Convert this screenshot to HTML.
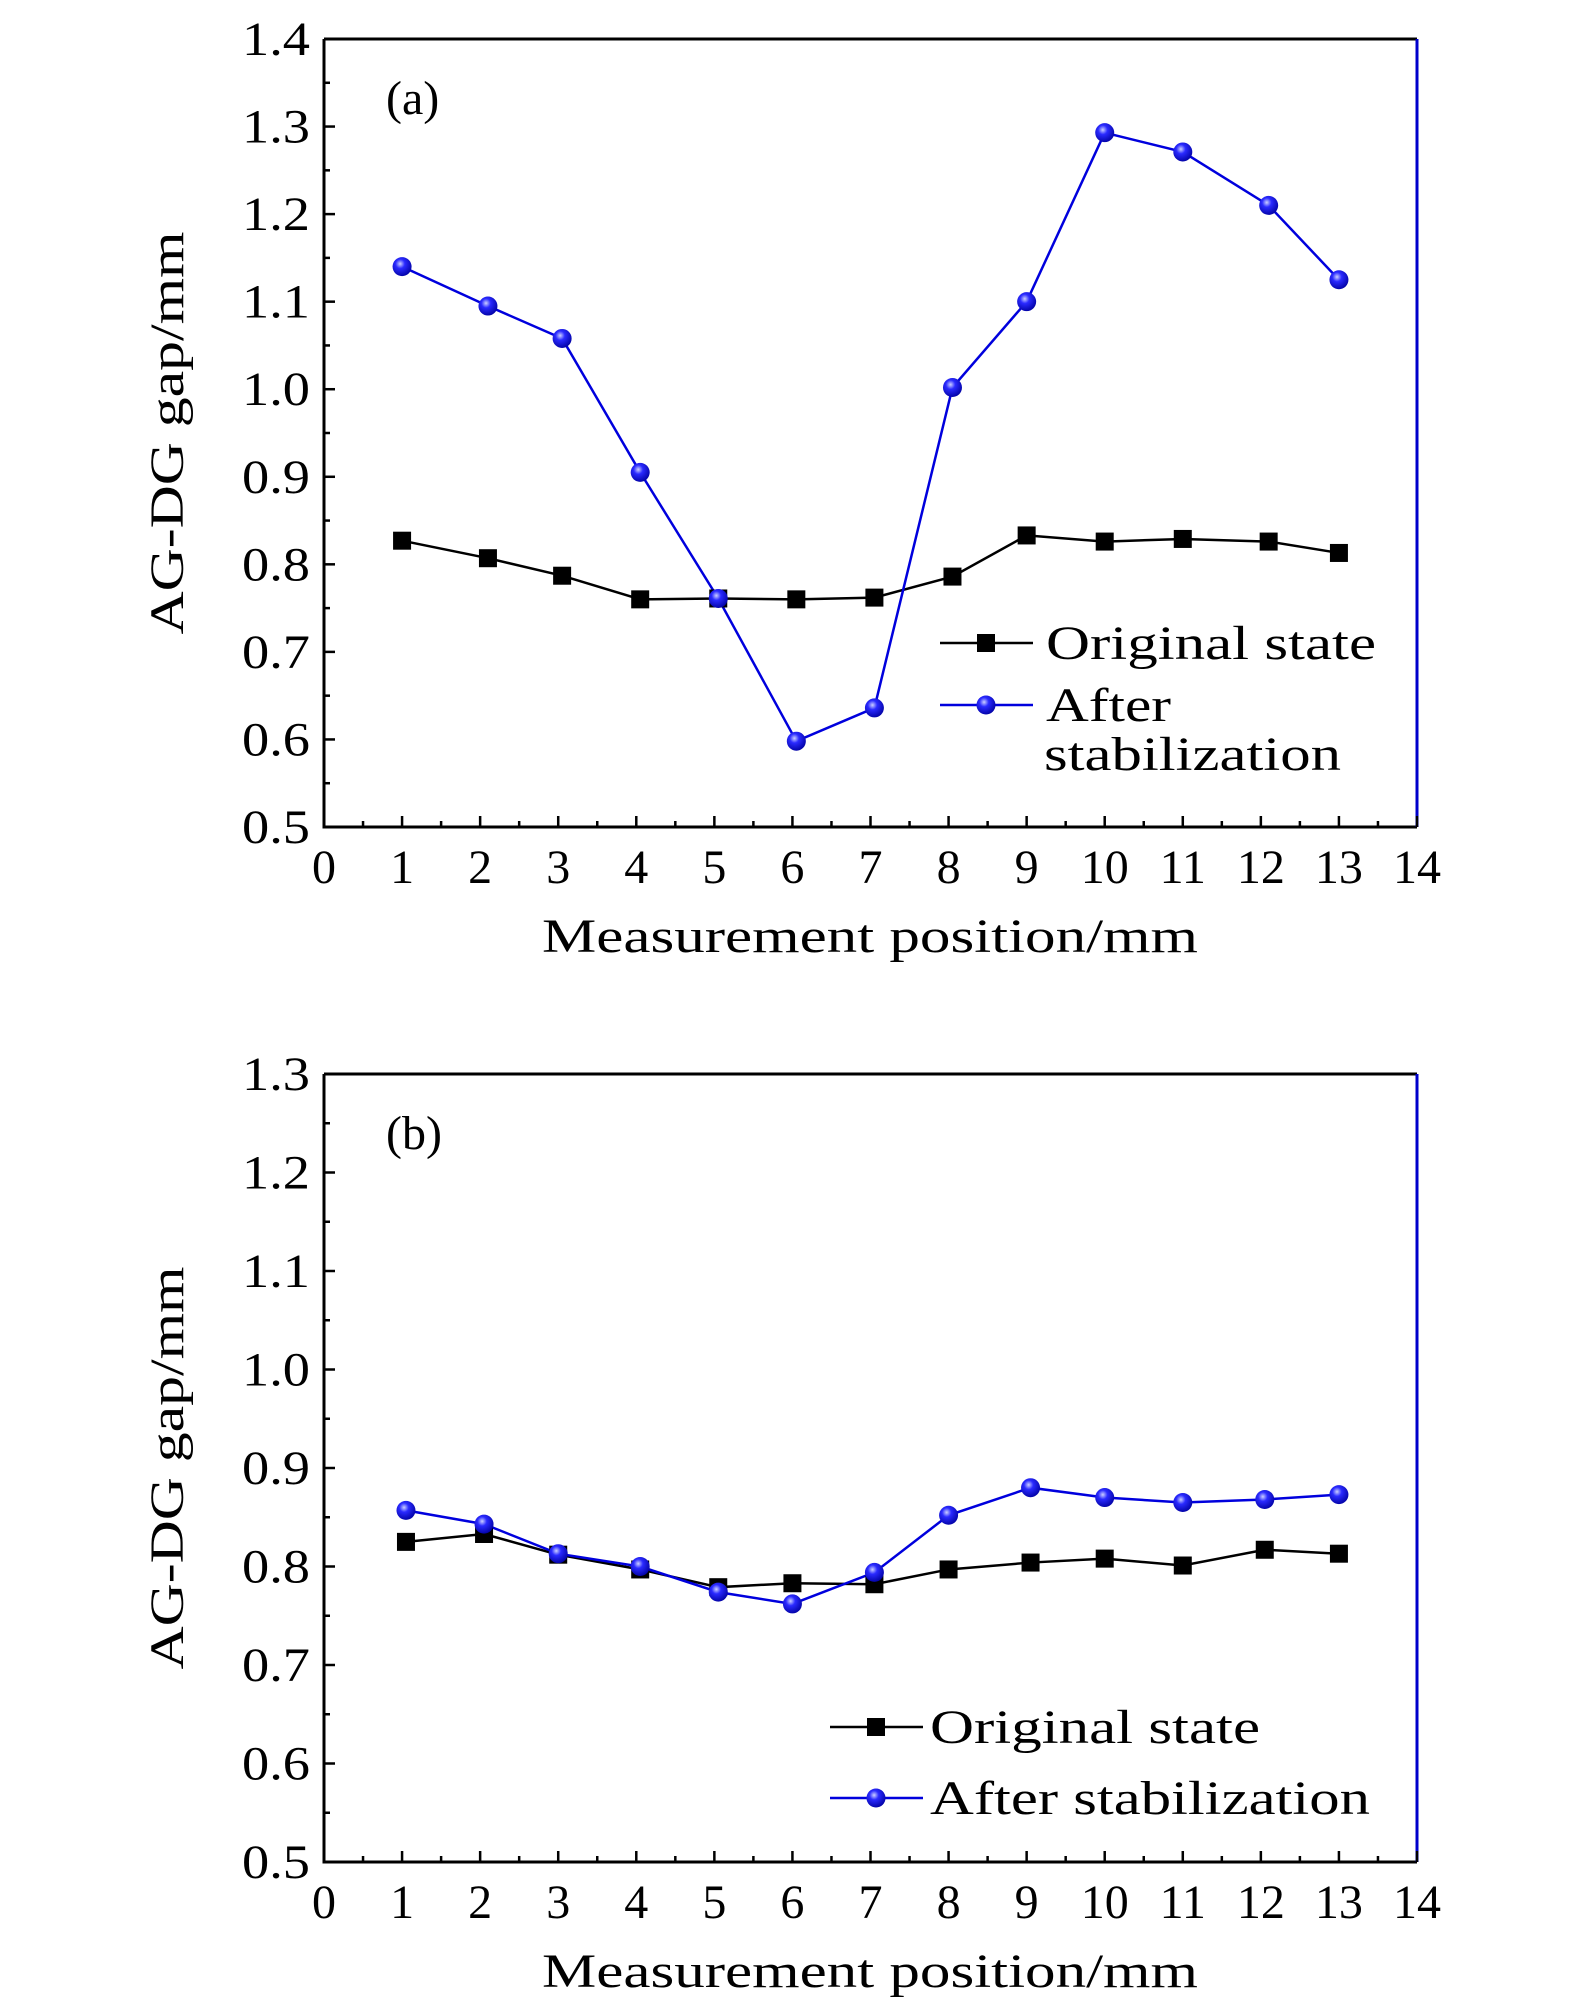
<!DOCTYPE html>
<html><head><meta charset="utf-8"><style>
body{margin:0;background:#fff}
svg text{font-family:"Liberation Serif",serif;fill:#000}
</style></head><body>
<svg id="chart" width="1575" height="2008" viewBox="0 0 1575 2008" xmlns="http://www.w3.org/2000/svg">
<defs><radialGradient id="ball" cx="0.4" cy="0.35" r="0.7"><stop offset="0" stop-color="#ccd0ff"/><stop offset="0.35" stop-color="#2a2aff"/><stop offset="1" stop-color="#0000a0"/></radialGradient></defs>
</svg>
<script>
const categories=[1,2,3,4,5,6,7,8,9,10,11,12,13];
const xPosA=[1,2.1,3.05,4.05,5.05,6.05,7.05,8.05,9,10,11,12.1,13];
const origA=[0.827,0.807,0.787,0.760,0.761,0.760,0.762,0.786,0.833,0.826,0.829,0.826,0.813];
const afterA=[1.140,1.095,1.058,0.905,0.761,0.598,0.636,1.002,1.100,1.293,1.271,1.210,1.125];
const xPosB=[1.05,2.05,3,4.05,5.05,6,7.05,8,9.05,10,11,12.05,13];
const origB=[0.825,0.833,0.812,0.797,0.779,0.783,0.782,0.797,0.804,0.808,0.801,0.817,0.813];
const afterB=[0.857,0.843,0.813,0.800,0.774,0.762,0.794,0.852,0.880,0.870,0.865,0.868,0.873];
const xTicks=[0,1,2,3,4,5,6,7,8,9,10,11,12,13,14];
const yTicksA=[0.5,0.6,0.7,0.8,0.9,1.0,1.1,1.2,1.3,1.4];
const yTicksB=[0.5,0.6,0.7,0.8,0.9,1.0,1.1,1.2,1.3];
const svg=document.getElementById('chart');
const NS='http://www.w3.org/2000/svg';
function mk(t,a,p){const e=document.createElementNS(NS,t);for(const k in a)e.setAttribute(k,a[k]);(p||svg).appendChild(e);return e;}
function panel(id,top,bottom,yTicks,xs,orig,after,label,legX,legY,twoLine){
  const L=324,R=1417,ymin=yTicks[0],ymax=yTicks[yTicks.length-1];
  const sx=v=>L+(v-0)/(14-0)*(R-L);
  const sy=v=>bottom-(v-ymin)/(ymax-ymin)*(bottom-top);
  const g=mk('g',{});
  
  
  const fr=mk('path',{d:`M${L},${top}H${R}M${L},${top}V${bottom}H${R}`,stroke:'#000','stroke-width':3,fill:'none'},g);
  
  
  const ra=mk('line',{x1:R,y1:top,x2:R,y2:bottom,stroke:'#0000cc','stroke-width':3},g);
  
  
  xTicks.forEach((v,i)=>{
    mk('line',{x1:sx(v),y1:bottom,x2:sx(v),y2:bottom-11,stroke:'#000','stroke-width':2.5},g);
    if(i<xTicks.length-1) mk('line',{x1:sx(v+0.5),y1:bottom,x2:sx(v+0.5),y2:bottom-6,stroke:'#000','stroke-width':2.5},g);
    const t=mk('text',{x:sx(v),y:bottom+56,'text-anchor':'middle','font-size':48},g);t.textContent=v;
    
    
  });
  yTicks.forEach((v,i)=>{
    mk('line',{x1:L,y1:sy(v),x2:L+11,y2:sy(v),stroke:'#000','stroke-width':2.5},g);
    if(i<yTicks.length-1) mk('line',{x1:L,y1:sy(v+0.05),x2:L+6,y2:sy(v+0.05),stroke:'#000','stroke-width':2.5},g);
    const t=mk('text',{x:L-14,y:sy(v)+16,'text-anchor':'end','font-size':48,textLength:68,lengthAdjust:'spacingAndGlyphs'},g);t.textContent=v.toFixed(1);
    
    
  });
  const xl=mk('text',{x:870,y:bottom+125,'text-anchor':'middle','font-size':48,textLength:656,lengthAdjust:'spacingAndGlyphs'},g);xl.textContent='Measurement position/mm';
  
  
  const cy=(top+bottom)/2;
  const yl=mk('text',{x:183,y:cy,'text-anchor':'middle','font-size':48,transform:`rotate(-90 183 ${cy})`,textLength:403,lengthAdjust:'spacingAndGlyphs'},g);yl.textContent='AG-DG gap/mm';
  
  
  const pl=mk('text',{x:386,y:top+75,'font-size':48},g);pl.textContent=label;
  
  
  const l1=mk('polyline',{points:xs.map((x,i)=>sx(x)+','+sy(orig[i])).join(' '),fill:'none',stroke:'#000','stroke-width':2.5},g);
  
  
  const l2=mk('polyline',{points:xs.map((x,i)=>sx(x)+','+sy(after[i])).join(' '),fill:'none',stroke:'#0000dd','stroke-width':2.5},g);
  
  
  xs.forEach((x,i)=>{
    const s=mk('rect',{x:sx(x)-9,y:sy(orig[i])-9,width:18,height:18,fill:'#000'},g);
    
    
  });
  xs.forEach((x,i)=>{
    const c=mk('circle',{cx:sx(x),cy:sy(after[i]),r:9.5,fill:'url(#ball)'},g);
    
    
  });
  const lg=mk('g',{},g);
  
  
  mk('line',{x1:legX,y1:legY,x2:legX+93,y2:legY,stroke:'#000','stroke-width':2.5},lg);
  mk('rect',{x:legX+37,y:legY-9,width:18,height:18,fill:'#000'},lg);
  const tx=legX+(twoLine?106:100);
  const t1=mk('text',{x:tx,y:legY+16,'font-size':48,textLength:330,lengthAdjust:'spacingAndGlyphs'},lg);t1.textContent='Original state';
  
  
  const ly2=legY+(twoLine?62:71);
  mk('line',{x1:legX,y1:ly2,x2:legX+93,y2:ly2,stroke:'#0000dd','stroke-width':2.5},lg);
  mk('circle',{cx:legX+46,cy:ly2,r:9.5,fill:'url(#ball)'},lg);
  const t2=mk('text',{x:tx,y:ly2+16,'font-size':48},lg);
  
  
  if(twoLine){t2.textContent='After';t2.setAttribute('textLength',125);t2.setAttribute('lengthAdjust','spacingAndGlyphs');
    const t3=mk('text',{x:tx-2,y:ly2+65,'font-size':48,textLength:297,lengthAdjust:'spacingAndGlyphs'},lg);t3.textContent='stabilization';}
  else {t2.textContent='After stabilization';t2.setAttribute('textLength',440);t2.setAttribute('lengthAdjust','spacingAndGlyphs');}
}
panel('a',39,827,yTicksA,xPosA,origA,afterA,'(a)',940,643,true);
panel('b',1074,1862,yTicksB,xPosB,origB,afterB,'(b)',830,1727,false);
</script>
</body></html>
